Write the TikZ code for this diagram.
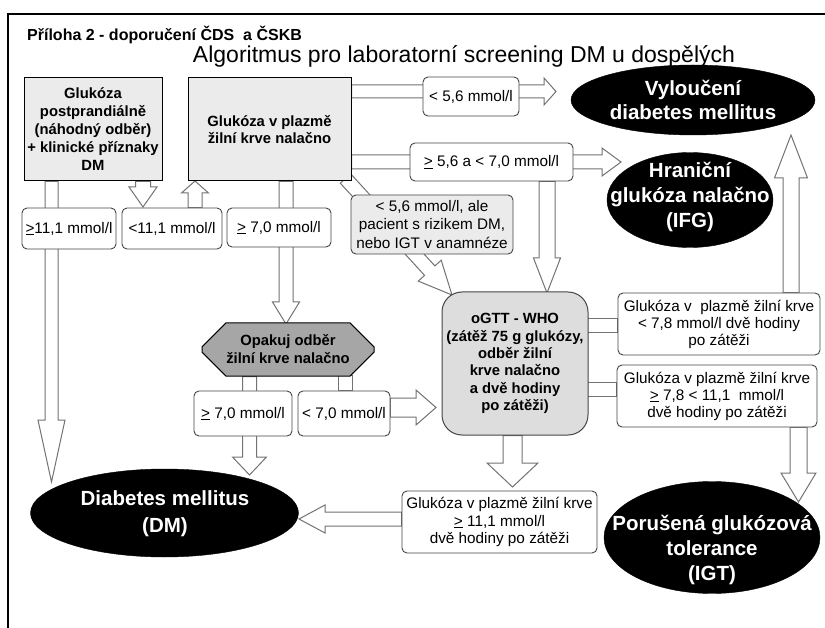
\documentclass[tikz,border=0pt]{standalone}
\usepackage{fontspec}
\setmainfont{Liberation Sans}
\usetikzlibrary{calc,shapes.geometric,shapes.misc}
\pgfdeclarelayer{background}
\pgfsetlayers{background,main}
\definecolor{arrgray}{RGB}{115,115,115}
\definecolor{lblgray}{RGB}{70,70,70}
\definecolor{boxgray}{RGB}{235,235,235}
\definecolor{ogray}{RGB}{221,221,221}
\definecolor{octgray}{RGB}{166,166,166}
\newcommand\uge{\underline{>}}
% block arrow: start, end, shaft half width, head half width, head length
\newcommand\barrow[5]{%
  \path[barrowsty] let \p1=#1, \p2=#2,
    \n1={atan2(\y2-\y1,\x2-\x1)},
    \n2={veclen(\x2-\x1,\y2-\y1)-#5} in
    ($(\p1)+(\n1+90:#3)$) -- ($(\p1)+(\n1:\n2)+(\n1+90:#3)$) --
    ($(\p1)+(\n1:\n2)+(\n1+90:#4)$) -- (\p2) --
    ($(\p1)+(\n1:\n2)+(\n1-90:#4)$) -- ($(\p1)+(\n1:\n2)+(\n1-90:#3)$) --
    ($(\p1)+(\n1-90:#3)$) -- cycle;}
\begin{document}
\begin{tikzpicture}[x=1pt,y=-1pt,
  barrowsty/.style={draw=arrgray,fill=white,line width=1pt,line join=miter},
  lbl/.style={draw=lblgray,line width=0.9pt,rounded corners=5pt,fill=white,inner sep=0pt,align=center,font=\fontsize{15.3}{17.5}\selectfont},
  gbox/.style={draw=black,line width=1pt,fill=boxgray,inner sep=0pt,align=center,font=\bfseries\fontsize{14.8}{18}\selectfont},
  ogsty/.style={draw=lblgray,line width=1pt,fill=ogray,rounded corners=20pt,inner sep=0pt,align=center,font=\bfseries\fontsize{14.8}{17.4}\selectfont},
  octsty/.style={chamfered rectangle,chamfered rectangle xsep=12pt,chamfered rectangle ysep=12pt,draw=black,line width=1pt,fill=octgray,inner sep=0pt,minimum width=172pt,minimum height=49pt,align=center,font=\bfseries\fontsize{14.8}{18}\selectfont},
  ell/.style={ellipse,fill=black,draw=black,inner sep=0pt},
  etext/.style={inner sep=0pt,text=white,align=center,font=\bfseries\fontsize{20.5}{25}\selectfont},
  ]
\useasboundingbox (0,0) rectangle (825,628);
% titles
\node[anchor=base west,inner sep=0pt,font=\bfseries\fontsize{16}{19}\selectfont] (t1) at (27,41) {Příloha 2 - doporučení ČDS\ \ a ČSKB};
\node[anchor=base,inner sep=0pt,font=\fontsize{23}{27}\selectfont] (t2) at (464,63) {Algoritmus pro laboratorní screening DM u dospělých};
% main boxes
\node[gbox,minimum width=138pt,minimum height=103pt] (A) at (93,129.5) {Glukóza\\postprandiálně\\(náhodný odběr)\\+ klinické příznaky\\DM};
\node[gbox,minimum width=163pt,minimum height=103pt,font=\bfseries\fontsize{14.8}{17}\selectfont] (B) at (269.5,129.5) {Glukóza v plazmě\\žilní krve nalačno};
% labels
\node[lbl,minimum width=96pt,minimum height=39pt] (L1) at (471,96.5) {< 5,6 mmol/l};
\node[lbl,minimum width=163pt,minimum height=38pt] (L2) at (491.5,162) {\uge{} 5,6 a < 7,0 mmol/l};
\node[lbl,fill=boxgray,minimum width=162pt,minimum height=59pt,font=\fontsize{15.3}{18.5}\selectfont] (L3) at (432,224.5) {< 5,6 mmol/l, ale\\pacient s rizikem DM,\\nebo IGT v anamnéze};
\node[lbl,minimum width=94pt,minimum height=41pt] (L11a) at (69,228.5) {\uge11,1 mmol/l};
\node[lbl,minimum width=100pt,minimum height=41pt] (L11b) at (172,228.5) {<11,1 mmol/l};
\node[lbl,minimum width=104pt,minimum height=39pt] (L7a) at (279,227.5) {\uge{} 7,0 mmol/l};
\node[lbl,minimum width=98pt,minimum height=45pt] (L7b) at (243,413.5) {\uge{} 7,0 mmol/l};
\node[lbl,minimum width=92pt,minimum height=45pt] (L7c) at (344,413.5) {< 7,0 mmol/l};
\node[octsty] (oct) at (288,349.5) {Opakuj odběr\\žilní krve nalačno};
\node[ogsty,minimum width=146pt,minimum height=143pt] (og) at (515,363.5) {oGTT - WHO\\(zátěž 75 g glukózy,\\odběr žilní\\krve nalačno\\a dvě hodiny\\po zátěži)};
\node[lbl,minimum width=202pt,minimum height=62pt,font=\fontsize{15.3}{17}\selectfont] (r1) at (719,324) {Glukóza v\ \ plazmě žilní krve\\< 7,8 mmol/l dvě hodiny\\po zátěži};
\node[lbl,minimum width=200pt,minimum height=62pt,font=\fontsize{15.3}{17}\selectfont] (r2) at (717,396) {Glukóza v plazmě žilní krve\\\uge{} 7,8 < 11,1\ \ mmol/l\\dvě hodiny po zátěži};
\node[lbl,minimum width=195pt,minimum height=62pt,font=\fontsize{15.3}{17.5}\selectfont] (bot) at (499.5,522) {Glukóza v plazmě žilní krve\\\uge{} 11,1 mmol/l\\dvě hodiny po zátěži};
% ellipses
\node[ell,minimum width=244pt,minimum height=70pt] (vyl) at (693,100) {};
\node[etext,font=\bfseries\fontsize{20.5}{24}\selectfont] (vylT) at (693,100) {Vyloučení\\diabetes mellitus};
\node[ell,minimum width=166pt,minimum height=95pt] (ifg) at (690,200) {};
\node[etext] (ifgT) at (690,197) {Hraniční\\glukóza nalačno\\(IFG)};
\node[ell,minimum width=216pt,minimum height=112pt] (igt) at (712,537.5) {};
\node[etext] (igtT) at (712,550) {Porušená glukózová\\tolerance\\(IGT)};
\node[ell,minimum width=268pt,minimum height=88pt] (dm) at (164.5,513) {};
\node[etext,font=\bfseries\fontsize{20.5}{27}\selectfont] (dmT) at (165,513.5) {Diabetes mellitus\\(DM)};
% arrow tips
\coordinate (tip1) at (556,91.5);
\coordinate (tip2) at (621,162);
\coordinate (tip3) at (452,295);
\coordinate (tip4) at (547,293);
\coordinate (tip5) at (51.5,482);
\coordinate (tip6) at (143,207);
\coordinate (tip7) at (195,181);
\coordinate (tip8) at (286,324);
\coordinate (tip9) at (249.5,475);
\coordinate (tip10) at (436,407.5);
\coordinate (tip11) at (791,135);
\coordinate (tip12) at (798.5,502);
\coordinate (tip13) at (512.5,487);
\coordinate (tip14) at (299,519);
\coordinate (s10) at (345,376);
\coordinate (s11) at (586,326);
\coordinate (s12) at (586,389.5);
\begin{pgfonlayer}{background}
\fill[white] (0,0) rectangle (825,628);
\barrow{(B.east |- tip1)}{(tip1)}{6.5pt}{13.5pt}{12pt}
\barrow{(B.east |- tip2)}{(tip2)}{7pt}{14pt}{19pt}
\barrow{($(B.south east)+(-6,-3)$)}{(tip3)}{7pt}{15.5pt}{33pt}
\barrow{(tip4 |- L2.south)}{(tip4)}{8pt}{13.5pt}{35pt}
\barrow{(tip5 |- A.south)}{(tip5)}{6.5pt}{13.5pt}{62pt}
\barrow{(tip6 |- A.south)}{(tip6)}{7.5pt}{14pt}{20pt}
\barrow{(tip7 |- L11b.north)}{(tip7)}{7pt}{13.5pt}{12pt}
\barrow{(tip8 |- B.south)}{(tip8)}{7pt}{13.5pt}{22pt}
\barrow{(tip9 |- oct.south)}{(tip9)}{7pt}{17pt}{18pt}
\barrow{(s10)}{(s10 |- L7c.north)}{7pt}{7pt}{0pt}
\barrow{(L7c.east |- tip10)}{(tip10)}{9.5pt}{17.5pt}{20pt}
\barrow{(s11)}{(s11 -| r1.west)}{7pt}{7pt}{0pt}
\barrow{(tip11 |- r1.north)}{(tip11)}{8pt}{16.5pt}{43pt}
\barrow{(s12)}{(s12 -| r2.west)}{6.5pt}{6.5pt}{0pt}
\barrow{(tip12 |- r2.south)}{(tip12)}{8.5pt}{17.5pt}{29pt}
\barrow{(tip13 |- og.south)}{(tip13)}{9.5pt}{25.5pt}{24pt}
\barrow{(bot.west |- tip14)}{(tip14)}{7pt}{14pt}{26pt}
\end{pgfonlayer}
% frame
\draw[line width=1.4pt] (8,628) -- (8,14) -- (825,14);
\end{tikzpicture}
\end{document}
